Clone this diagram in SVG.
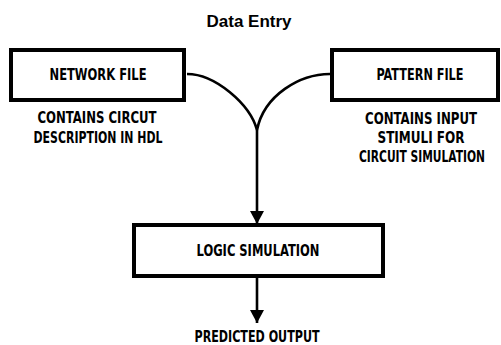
<svg xmlns="http://www.w3.org/2000/svg" width="501" height="345" viewBox="0 0 501 345">
<style>
.box{fill:#fff;stroke:#000;stroke-width:4}
.lbl{font-family:"Liberation Sans Narrow","DejaVu Sans Condensed","Liberation Sans",sans-serif;font-weight:bold;font-size:15px;fill:#000;text-anchor:middle}
.title{font-family:"Liberation Sans",Arial,sans-serif;font-weight:bold;font-size:17px;fill:#000;text-anchor:middle}
.ln{fill:none;stroke:#000;stroke-width:2.6}
</style>
<defs>
<marker id="ah" markerUnits="userSpaceOnUse" markerWidth="14" markerHeight="14" refX="13" refY="7" orient="auto">
<path d="M0,0 L13,7 L0,14 Z" fill="#000"/>
</marker>
</defs>
<rect width="501" height="345" fill="#fff"/>
<text class="title" x="249" y="27">Data Entry</text>
<g id="connectors">
<path class="ln" d="M187,74 C215,74 250,104 257,130"/>
<path class="ln" d="M330,74 C300,74 264,95 257,130"/>
<path class="ln" d="M257,130 L257,224" marker-end="url(#ah)"/>
<path class="ln" d="M257,278 L257,323" marker-end="url(#ah)"/>
</g>
<g id="network-file">
<rect class="box" x="11" y="50" width="173" height="50"/>
<text class="lbl" x="98" y="80" textLength="97" lengthAdjust="spacingAndGlyphs">NETWORK FILE</text>
<text class="lbl" x="97" y="123" textLength="119" lengthAdjust="spacingAndGlyphs">CONTAINS CIRCUT</text>
<text class="lbl" x="98" y="143" textLength="129" lengthAdjust="spacingAndGlyphs">DESCRIPTION IN HDL</text>
</g>
<g id="pattern-file">
<rect class="box" x="332" y="50" width="166" height="50"/>
<text class="lbl" x="420" y="80" textLength="87" lengthAdjust="spacingAndGlyphs">PATTERN FILE</text>
<text class="lbl" x="421" y="124" textLength="112" lengthAdjust="spacingAndGlyphs">CONTAINS INPUT</text>
<text class="lbl" x="421" y="143" textLength="87" lengthAdjust="spacingAndGlyphs">STIMULI FOR</text>
<text class="lbl" x="422" y="162" textLength="126" lengthAdjust="spacingAndGlyphs">CIRCUIT SIMULATION</text>
</g>
<g id="logic-simulation">
<rect class="box" x="134" y="225" width="249" height="51"/>
<text class="lbl" x="258" y="256" textLength="123" lengthAdjust="spacingAndGlyphs">LOGIC SIMULATION</text>
</g>
<g id="predicted-output">
<text class="lbl" x="257" y="342" textLength="125" lengthAdjust="spacingAndGlyphs">PREDICTED OUTPUT</text>
</g>
</svg>
